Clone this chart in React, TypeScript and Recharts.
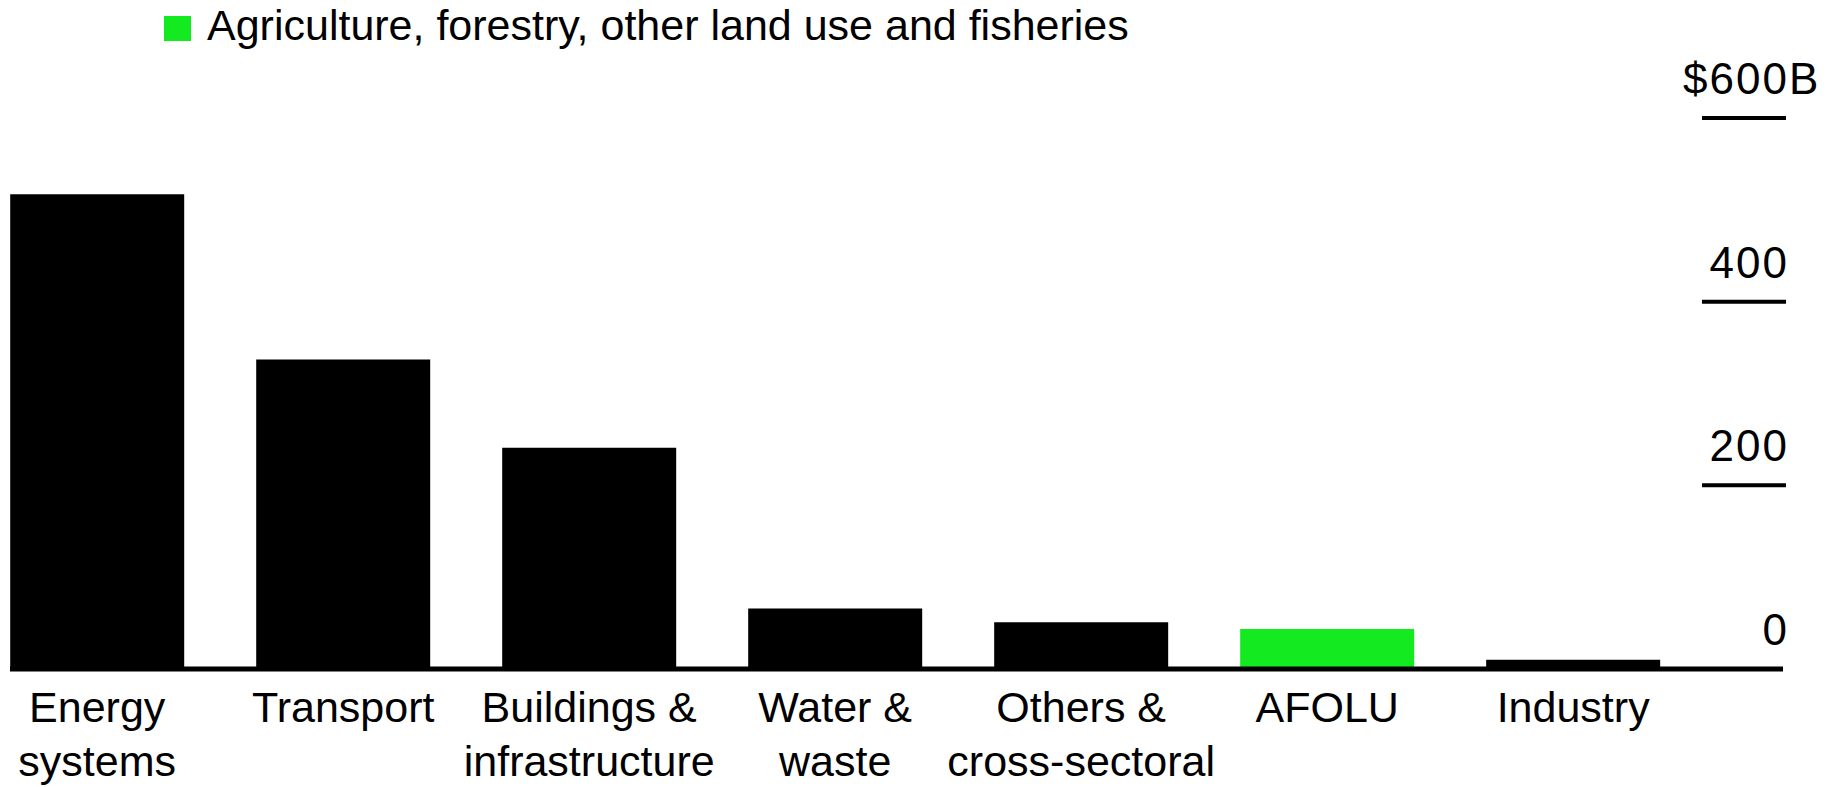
import { Bar, BarChart, Cell, XAxis, YAxis } from "recharts";

// Sectors, in the order they are drawn left to right
const sectors = [
  "Energy systems",
  "Transport",
  "Buildings & infrastructure",
  "Water & waste",
  "Others & cross-sectoral",
  "AFOLU",
  "Industry",
];
const sectorLines = [
  ["Energy", "systems"],
  ["Transport"],
  ["Buildings &", "infrastructure"],
  ["Water &", "waste"],
  ["Others &", "cross-sectoral"],
  ["AFOLU"],
  ["Industry"],
];
// Annual investment, billions of dollars
const investment = [517, 337, 241, 66, 51, 43.5, 10];
const highlighted = ["AFOLU"];
const valueTicks = [0, 200, 400, 600];
const legendLabel = "Agriculture, forestry, other land use and fisheries";

const BLACK = "#000000";
const GREEN = "#13ea20";
const FONT = '"Liberation Sans", Arial, Helvetica, sans-serif';
const LABEL_SIZE = 43;
const TICK_SIZE = 44;

const data = sectors.map((name, i) => ({ idx: i, name, value: investment[i] }));
const topTick = Math.max(...valueTicks);

function SectorTick({ x, y, payload }: any) {
  const lines = sectorLines[payload.value] ?? [];
  return (
    <g>
      {lines.map((line, i) => (
        <text
          key={i}
          x={x}
          y={y + 53 + i * 54}
          textAnchor="middle"
          fontSize={LABEL_SIZE}
          fontFamily={FONT}
          fill={BLACK}
        >
          {line}
        </text>
      ))}
    </g>
  );
}

// right-hand scale: short rule under each value, unit suffix hangs past the column
function ValueTick({ x, y, payload }: any) {
  const v = payload.value;
  const isTop = v === topTick;
  const tx = x + 6;
  const textProps = {
    y: y - 24,
    fontSize: TICK_SIZE,
    fontFamily: FONT,
    fill: BLACK,
    letterSpacing: 2,
  };
  return (
    <g>
      {v !== 0 && (
        <line x1={x - 81} x2={x + 3} y1={y} y2={y} stroke={BLACK} strokeWidth={4} />
      )}
      <text x={tx} textAnchor="end" {...textProps}>
        {isTop ? `$${v}` : v}
      </text>
      {isTop && (
        <text x={tx} {...textProps}>
          B
        </text>
      )}
    </g>
  );
}

export default function App() {
  return (
    <div style={{ position: "relative", width: 1829, height: 779, background: "#fff" }}>
      <svg
        width={1200}
        height={64}
        style={{ position: "absolute", left: 0, top: -8 }}
      >
        <rect x={156} y={16} width={27} height={25} fill={GREEN} />
        <text x={199} y={40} fontSize={LABEL_SIZE} fontFamily={FONT} fill={BLACK}>
          {legendLabel}
        </text>
      </svg>
      <BarChart
        width={1829}
        height={779}
        data={data}
        margin={{ top: 110, right: 0, bottom: 8, left: 2 }}
      >
        <XAxis
          type="number"
          dataKey="idx"
          domain={[-0.3545, 6.853]}
          ticks={sectors.map((_, i) => i)}
          interval={0}
          axisLine={{ stroke: BLACK, strokeWidth: 5 }}
          tickLine={false}
          tickSize={0}
          tickMargin={0}
          height={110}
          tick={<SectorTick />}
        />
        <YAxis
          orientation="right"
          domain={[0, topTick]}
          ticks={valueTicks}
          axisLine={false}
          tickLine={false}
          tickSize={0}
          tickMargin={0}
          width={54}
          tick={<ValueTick />}
        />
        <Bar dataKey="value" barSize={174} isAnimationActive={false}>
          {data.map((d) => (
            <Cell key={d.name} fill={highlighted.includes(d.name) ? GREEN : BLACK} />
          ))}
        </Bar>
      </BarChart>
    </div>
  );
}
